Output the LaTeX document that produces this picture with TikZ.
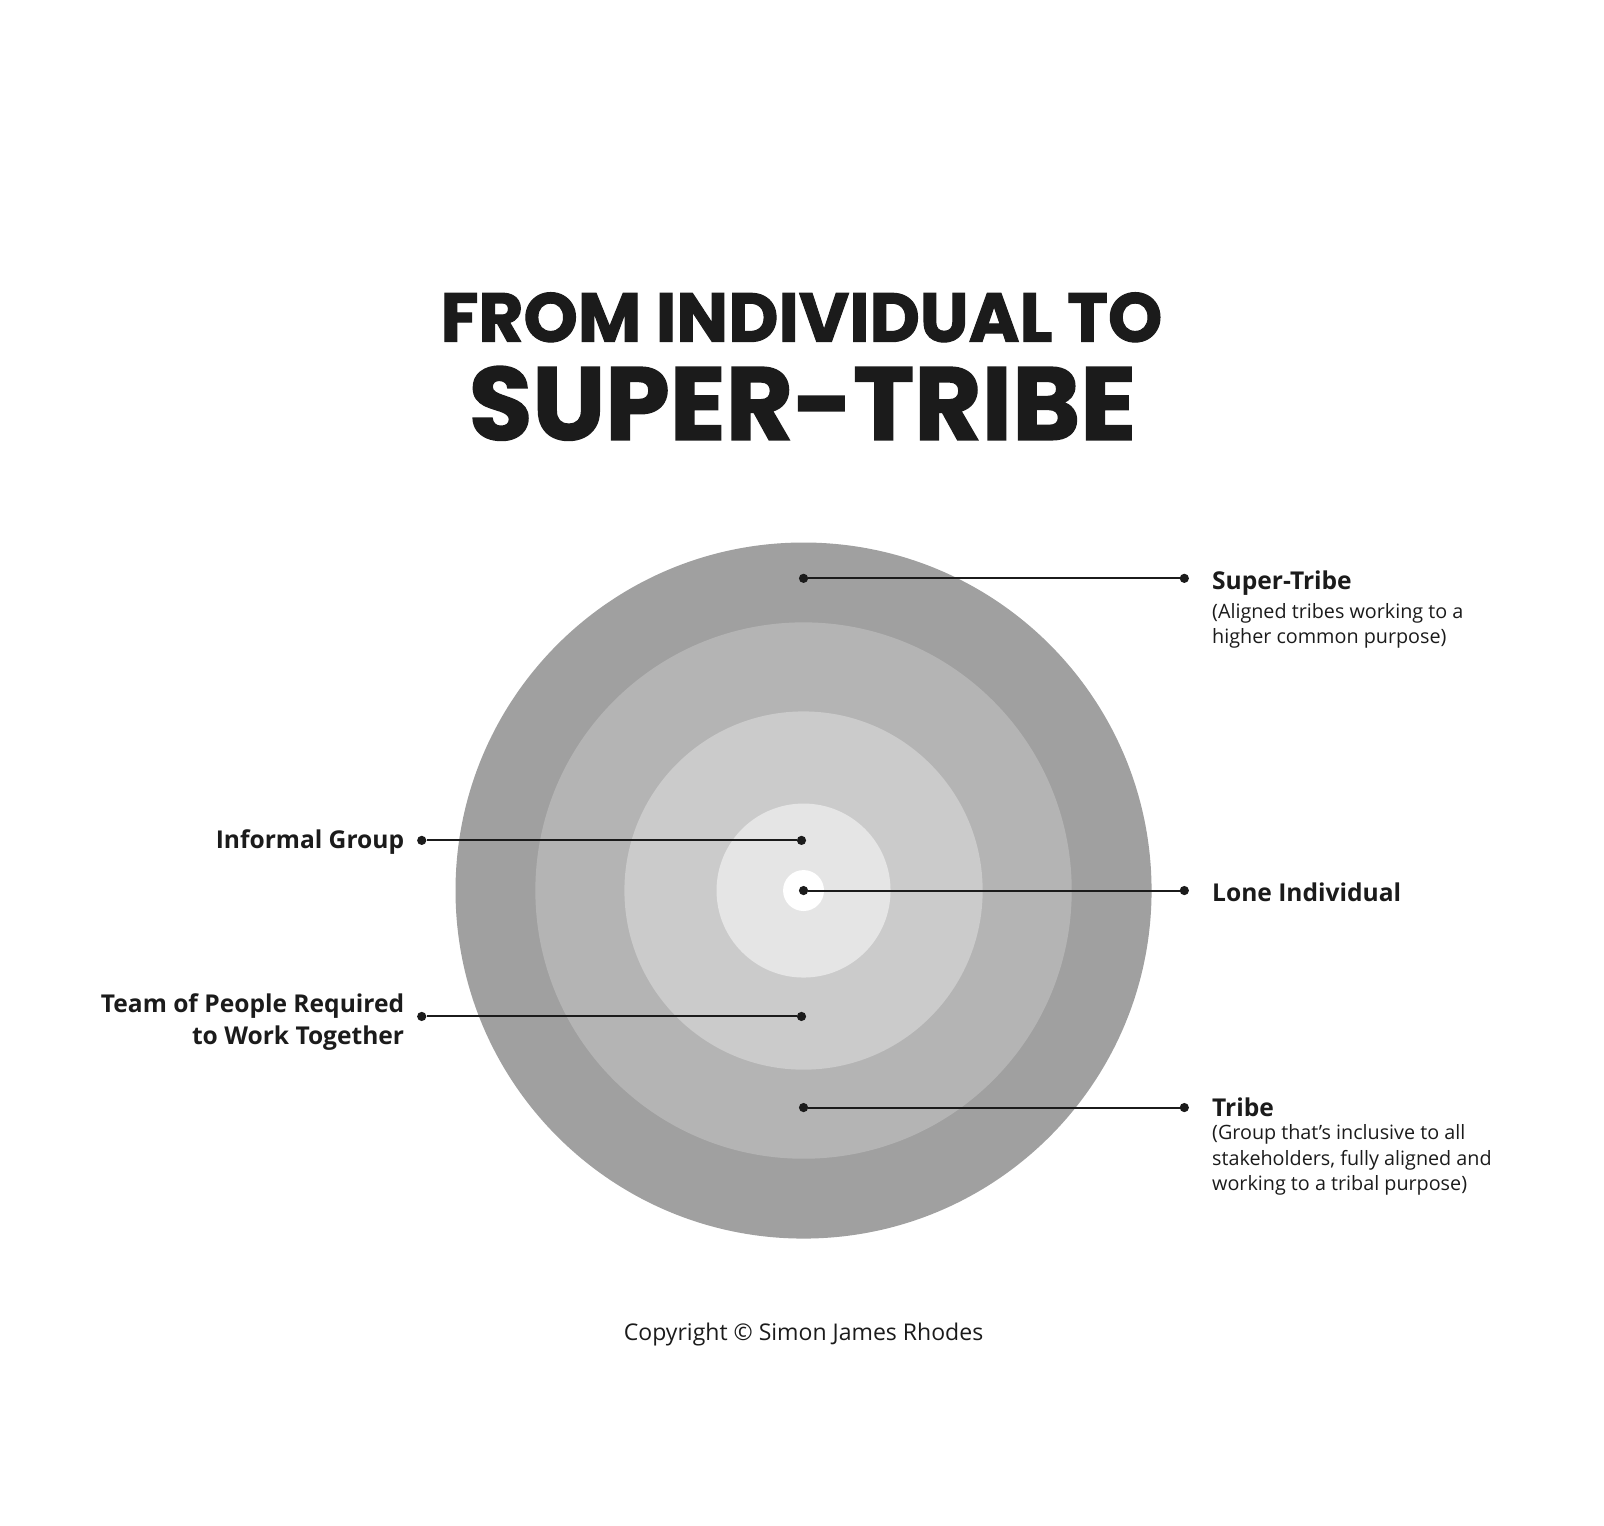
\documentclass[tikz,border=0pt]{standalone}
\usepackage{fontspec}
\setmainfont{Open Sans}
\newfontfamily\titlefont{Poppins}[BoldFeatures={FakeBold=1.5}]
\usetikzlibrary{positioning}
\definecolor{ink}{HTML}{1B1B1B}
\definecolor{ringA}{HTML}{A0A0A0}
\definecolor{ringB}{HTML}{B4B4B4}
\definecolor{ringC}{HTML}{CBCBCB}
\definecolor{ringD}{HTML}{E5E5E5}
\tikzset{
  dot/.style={circle,inner sep=0pt,minimum size=9pt,fill=ink},
  lead/.style={draw=ink,line width=2pt},
  head/.style={inner sep=0pt,text=ink,font=\fontsize{24}{31}\selectfont\bfseries},
  desc/.style={inner sep=0pt,text=ink,align=left,font=\fontsize{19.3}{25}\selectfont}
}
\begin{document}
\begin{tikzpicture}[x=1pt,y=-1pt]
		\useasboundingbox (0,0) rectangle (1567,1490);
		% title
		\node [text=ink,inner sep=0pt,font=\titlefont\bfseries\fontsize{67.5}{67.5}\selectfont] (top) at (783,310) {FROM INDIVIDUAL TO};
		\node [text=ink,inner sep=0pt,font=\titlefont\bfseries\fontsize{101}{101}\selectfont] (big) at (784,394) {SUPER-TRIBE};
		% rings
		\foreach \r/\c in {340/ringA,262/ringB,175/ringC,85/ringD,20/white}{
		    \fill [\c] (785,870) circle (\r pt);
		}
		% leads
		\node [dot] (st-in) at (785,565) {};
		\node [dot] (st-out) at (1157,565) {};
		\node [dot] (ig-out) at (412,821) {};
		\node [dot] (ig-in) at (783,821) {};
		\node [dot] (li-in) at (785,870) {};
		\node [dot] (li-out) at (1157,870) {};
		\node [dot] (tp-out) at (412,993) {};
		\node [dot] (tp-in) at (783,993) {};
		\node [dot] (tr-in) at (785,1082) {};
		\node [dot] (tr-out) at (1157,1082) {};
		\foreach \a/\b in {st-in/st-out,ig-out/ig-in,li-in/li-out,tp-out/tp-in,tr-in/tr-out}{
		    \draw [lead] (\a) -- (\b);
		}
		% labels
		\node [head,anchor=base west] (st) at (1184,576) {Super-Tribe};
		\node [desc,below=7pt of st.south west,anchor=north west] (st-d) {(Aligned tribes working to a\\higher common purpose)};
		\node [head,anchor=base east] (ig) at (395,829) {Informal Group};
		\node [head,anchor=base west] (li) at (1184,881) {Lone Individual};
		\node [head,anchor=base east,align=right] (tp) at (395,1020) {Team of People Required\\to Work Together};
		\node [head,anchor=base west] (tr) at (1184,1091) {Tribe};
		\node [desc,below=7pt of tr.south west,anchor=north west] (tr-d) {(Group that’s inclusive to all\\stakeholders, fully aligned and\\working to a tribal purpose)};
		\node [text=ink,inner sep=0pt,anchor=base,font=\fontsize{22.5}{26}\selectfont] (copy) at (785,1310) {Copyright © Simon James Rhodes};
\end{tikzpicture}
\end{document}
